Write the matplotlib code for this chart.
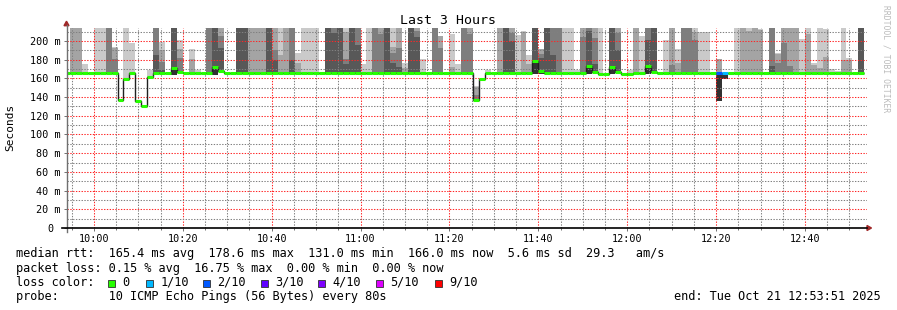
"""
smokeping style latency graph (last 3 hours), rrdtool look
output: out.png  (897 x 310 px)
"""
import numpy as np
import pandas as pd
import matplotlib as mpl
mpl.use("Agg")
import matplotlib.pyplot as plt
import matplotlib.dates as mdates
from matplotlib.lines import Line2D
from matplotlib.patches import Rectangle, Polygon
from matplotlib.ticker import MultipleLocator, FuncFormatter

mpl.rcParams["font.family"] = "DejaVu Sans Mono"

W, H = 897, 310          # px, saved at dpi 100
T = 230                  # ping above the graph top (gets clipped)

# ============================================================
# data: one entry per 80 s step, first step starts 09:53:20
# pN = N-th fastest of the 10 pings in ms, 0 -> none (= median)
# ============================================================
STEP_START = "2025-10-21 09:53:20"
STEP_SEC = 80
END_TIME = "2025-10-21 12:53:51"

median = [
    165.5, 165.5, 165.5, 165.5, 165.5, 165.5, 165.5, 165.5, 165.5, 137, 159.5, 165.5, 135.5, 131, 162,
    165.5, 165.5, 165.5, 171, 167, 165.5, 165.5, 165.5, 165.5, 165.5, 171.8, 167.5, 165.5, 165.5, 165.5,
    165.5, 165.5, 165.5, 165.5, 165.5, 165.5, 165.5, 165.5, 165.5, 165.5, 165.5, 165.5, 165.5, 165.5, 165.5,
    165.5, 165.5, 165.5, 165.5, 165.5, 165.5, 165.5, 165.5, 165.5, 165.5, 165.5, 165.5, 165.5, 165.5, 165.5,
    165.5, 165.5, 165.5, 165.5, 165.5, 165.5, 165.5, 165.5, 165.5, 137, 159.5, 165.5, 165.5, 165.5, 165.5,
    165.5, 165.5, 165.5, 165.5, 178.6, 168.3, 165.5, 165.5, 165.5, 165.5, 165.5, 165.5, 165.5, 173.2, 166.8,
    164.8, 164.8, 172.7, 166.8, 164.8, 164.8, 165.5, 165.5, 173.5, 166.8, 165.5, 165.5, 165.5, 165.5, 165.5,
    165.5, 165.5, 165.5, 165.5, 165.5, 165.5, 165.5, 165.5, 165.5, 165.5, 165.5, 165.5, 165.5, 165.5, 165.5,
    165.5, 165.5, 165.5, 165.5, 165.5, 165.5, 165.5, 165.5, 165.5, 165.5, 165.5, 165.5, 165.5, 165.5, 166.0,
]

# lost pings out of 10
loss = [0] * 110 + [2, 1] + [0] * 23

p10 = [
    0, 0, 0, 175, 0, T, T, 0, 194, 0, T, 198, 0, 0, 169,
    0, 199, 0, 0, 201, 0, 191, 169, 0, 0, 0, 0, 0, 0, 0,
    0, 0, 0, 0, 0, 0, T, 0, 0, 187, T, T, T, 167, 0,
    0, 0, T, 0, 0, 175, T, 0, 0, 0, T, 0, 176, 0, 0,
    181, 0, 0, 205, 0, 208, 175, 0, 0, 152, 0, 169, 0, 0, 0,
    0, 206, 211, 185, 0, 0, 0, 0, 0, T, T, 169, 0, 0, 0,
    T, 0, 0, 0, 0, 169, 0, 205, 0, 0, 0, 201, 0, 191, 0,
    0, T, 210, 210, 0, 0, 0, 0, T, 0, T, 0, 213, 0, 0,
    187, 0, 0, 0, 202, T, 176, T, 213, 170, 168, T, 182, 0, 0,
]
p9 = [
    0, T, T, 0, 0, 0, 0, 0, 193, 0, 0, 0, 0, 0, 0,
    0, 190, 0, 0, 191, 0, 181, 0, 0, 0, 0, T, 0, 0, 0,
    0, T, T, T, 0, T, 185, T, 0, 176, 0, 0, 0, 0, 0,
    0, 0, 210, 0, 0, 0, 0, 0, T, 0, 194, T, 171, 0, T,
    0, 0, 0, 205, 0, 172, 0, 0, T, 151, 0, 0, 0, T, 0,
    T, 0, 210, 175, 0, 191, 0, 0, 0, 0, 0, 0, T, 0, T,
    0, 0, 0, T, 0, 0, T, 0, 0, 0, 0, 0, T, 176, 0,
    0, 210, 0, 0, 0, 181, 0, 0, 0, T, 211, T, 212, 0, 0,
    186, T, T, T, 0, 207, 174, 171, 183, 0, 0, 180, 180, 0, 0,
]
p8 = [
    0, 0, 0, 0, 0, 0, 0, T, 181, 0, 0, 0, 0, 0, 0,
    T, 178, 0, 0, 182, 0, 0, 0, 0, T, 0, 205, 0, 0, 0,
    0, 0, 0, 0, 0, 190, 0, 0, T, 0, 0, 0, 0, 0, 0,
    T, 0, 181, 0, T, 0, 0, T, 208, 0, 187, 192, 0, 0, 211,
    0, 0, T, 193, 0, 0, 0, T, 207, 142, 0, 0, 0, 0, 0,
    209, 0, 0, 0, 0, 186, 0, T, T, 0, 0, 0, 204, T, 203,
    0, 0, 0, 209, 0, 0, 0, 0, T, 0, 0, 0, 174, 0, T,
    T, 201, 0, 0, 0, 0, 0, 0, 0, 0, 0, 0, 0, 0, T,
    176, 198, 173, 0, 0, 0, 0, 0, 0, 0, 0, 0, 0, 0, 0,
]
p7 = [
    0, 0, 0, 0, 0, 0, 0, 0, 0, 0, 0, 0, 0, 0, 0,
    185, 169, 0, T, 0, 0, 0, 0, 0, 0, T, 192, 0, 0, T,
    T, 0, 0, 0, T, 180, 0, 0, 180, 0, 0, 0, 0, 0, T,
    209, T, 175, T, 196, 0, 0, 0, 0, T, 176, 172, 0, T, 204,
    0, 0, 0, 0, 0, 0, 0, 0, 0, 0, 0, 0, 0, 0, T,
    200, 0, 0, 0, T, 182, T, 185, 0, 0, 0, 0, 0, 211, 175,
    0, 0, T, 190, 0, 0, 0, 0, 201, T, 0, 0, 0, 0, 0,
    0, 0, 0, 0, 0, 0, 0, 0, 0, 0, 0, 0, 0, 0, 173,
    0, 0, 0, 0, 0, 0, 0, 0, 0, 0, 0, 0, 0, 0, T,
]
p6 = [0] * 18 + [172] + [0] * 6 + [172.5] + [0] * 53 + [179, 169] + [0] * 7 + [174] \
     + [0] * 3 + [173.5] + [0] * 5 + [174] + [0] * 11 + [166, 165.5] + [0] * 23
# fastest pings (p1..p5), 0 -> same as median
lo = [0] * 18 + [164] + [0] * 6 + [164] + [0] * 53 + [165, 165] + [0] * 7 + [165] \
     + [0] * 3 + [164.5] + [0] * 5 + [165] + [0] * 11 + [136, 159.5] + [0] * 23

loss_labels = ["0", "1/10", "2/10", "3/10", "4/10", "5/10", "9/10"]
loss_steps = [0, 1, 2, 3, 4, 5, 9]
loss_colors = ["#26ff00", "#00b8ff", "#0059ff", "#5e00ff", "#7e00ff", "#dd00ff", "#ff0000"]

for arr in (median, loss, p10, p9, p8, p7, p6, lo):
    assert len(arr) == len(median), len(arr)

# ============================================================
# prep
# ============================================================
t = pd.date_range(STEP_START, periods=len(median), freq=f"{STEP_SEC}s")
x0 = mdates.date2num(t.to_pydatetime())
step = STEP_SEC / 86400.0
med = np.array(median, float)

lo_v = np.where(np.array(lo) > 0, lo, med)
p6_v = np.maximum(np.where(np.array(p6) > 0, p6, med), lo_v)
p7_v = np.maximum(p7, p6_v)
p8_v = np.maximum(p8, p7_v)
p9_v = np.maximum(p9, p8_v)
p10_v = np.maximum(p10, p9_v)

# smokeping smoke: outer ping pairs light, inner ones dark
smoke = [(p10_v, "#cacaca"), (p9_v, "#a4a4a4"), (p8_v, "#7e7e7e"),
         (p7_v, "#585858"), (p6_v, "#323232")]

t_end = pd.Timestamp(END_TIME)
t_beg = t_end - pd.Timedelta(hours=3)


def fx(px):
    return px / W


def fy(py):
    return 1 - py / H


# ============================================================
# figure
# ============================================================
fig = plt.figure(figsize=(W / 100, H / 100), dpi=100)
fig.patch.set_facecolor("white")
ax = fig.add_axes([fx(66.5), fy(228), 800 / W, 200 / H])

for top, col in smoke:
    ax.bar(x0, top - lo_v, bottom=lo_v, width=step, align="edge", color=col,
           linewidth=0, antialiased=False, zorder=1)

edges = np.append(x0, x0[-1] + step)
ax.stairs(med, edges, baseline=None, color="#202020", lw=1.0, zorder=3)
seg_cols = [loss_colors[loss_steps.index(v)] for v in loss]
hl = ax.hlines(med, x0, x0 + step, colors=seg_cols, lw=2.2, zorder=4)
hl.set_capstyle("butt")

ax.set_xlim(mdates.date2num(t_beg), mdates.date2num(t_end))
ax.set_ylim(0, 213.9)

ax.xaxis.set_major_locator(mdates.MinuteLocator(byminute=[0, 20, 40]))
ax.xaxis.set_minor_locator(mdates.MinuteLocator(byminute=range(0, 60, 5)))
ax.xaxis.set_major_formatter(mdates.DateFormatter("%H:%M"))
ax.yaxis.set_major_locator(MultipleLocator(20))
ax.yaxis.set_minor_locator(MultipleLocator(10))
ax.yaxis.set_major_formatter(FuncFormatter(lambda v, p: "0 " if v == 0 else f"{v:.0f} m"))

# dotted rrdtool grid, drawn over the smoke
ax.set_axisbelow(False)
ax.grid(which="minor", color=(0.5, 0.5, 0.5, 0.3), lw=0.75, ls=(0, (1.3, 1.4)))
ax.grid(which="major", color=(1.0, 0.15, 0.15, 0.32), lw=0.75, ls=(0, (1.3, 1.4)))

ax.tick_params(axis="both", which="both", labelsize=7.3, colors="#707070", labelcolor="black")
ax.tick_params(axis="x", which="major", length=2.5, width=0.7, pad=2.0)
ax.tick_params(axis="x", which="minor", length=1.5, width=0.7)
ax.tick_params(axis="y", which="major", length=2.2, width=0.7, pad=2.2)
ax.tick_params(axis="y", which="minor", length=0)
for s in ax.spines.values():
    s.set_visible(False)

# axes lines + rrdtool arrows
fig.add_artist(Line2D([fx(66.5), fx(66.5)], [fy(232), fy(25)], color="#707070", lw=1.0))
fig.add_artist(Line2D([fx(62), fx(867)], [fy(228), fy(228)], color="black", lw=1.2))
fig.add_artist(Polygon([(fx(64), fy(25.7)), (fx(69), fy(25.7)), (fx(66.5), fy(21.2))],
                       closed=True, color="#a02828", transform=fig.transFigure))
fig.add_artist(Polygon([(fx(867), fy(225.5)), (fx(867), fy(230.5)), (fx(871.5), fy(228))],
                       closed=True, color="#a02828", transform=fig.transFigure))

# titles
fig.text(fx(448), fy(24.5), "Last 3 Hours", ha="center", va="baseline", fontsize=9.5)
fig.text(fx(10), fy(127), "Seconds", rotation=90, ha="center", va="center", fontsize=8)
fig.text(fx(886), fy(5), "RRDTOOL / TOBI OETIKER", rotation=270, ha="center", va="top",
         fontsize=5.8, color="#bbbbbb")

# ============================================================
# legend block
# ============================================================
LEG = 8.55
lines = [
    "median rtt:  165.4 ms avg  178.6 ms max  131.0 ms min  166.0 ms now  5.6 ms sd  29.3   am/s",
    "packet loss: 0.15 % avg  16.75 % max  0.00 % min  0.00 % now",
    "loss color:",
    "probe:       10 ICMP Echo Pings (56 Bytes) every 80s",
]
base_y = [257.5, 271.7, 285.9, 300.1]
for s, by in zip(lines, base_y):
    fig.text(fx(15.5), fy(by), s, ha="left", va="baseline", fontsize=LEG)

box_x = [108, 145.7, 202.7, 260.7, 318.3, 376, 435]
for bx, lab, col in zip(box_x, loss_labels, loss_colors):
    fig.add_artist(Rectangle((fx(bx), fy(287)), 7 / W, 7 / H, transform=fig.transFigure,
                             facecolor=col, edgecolor="#303030", lw=0.6))
    fig.text(fx(bx + 14.5), fy(base_y[2]), lab, ha="left", va="baseline", fontsize=LEG)

fig.text(fx(881), fy(base_y[3]), "end: Tue Oct 21 12:53:51 2025", ha="right", va="baseline",
         fontsize=LEG)

fig.savefig("out.png", dpi=100)
print("[done] out.png")
